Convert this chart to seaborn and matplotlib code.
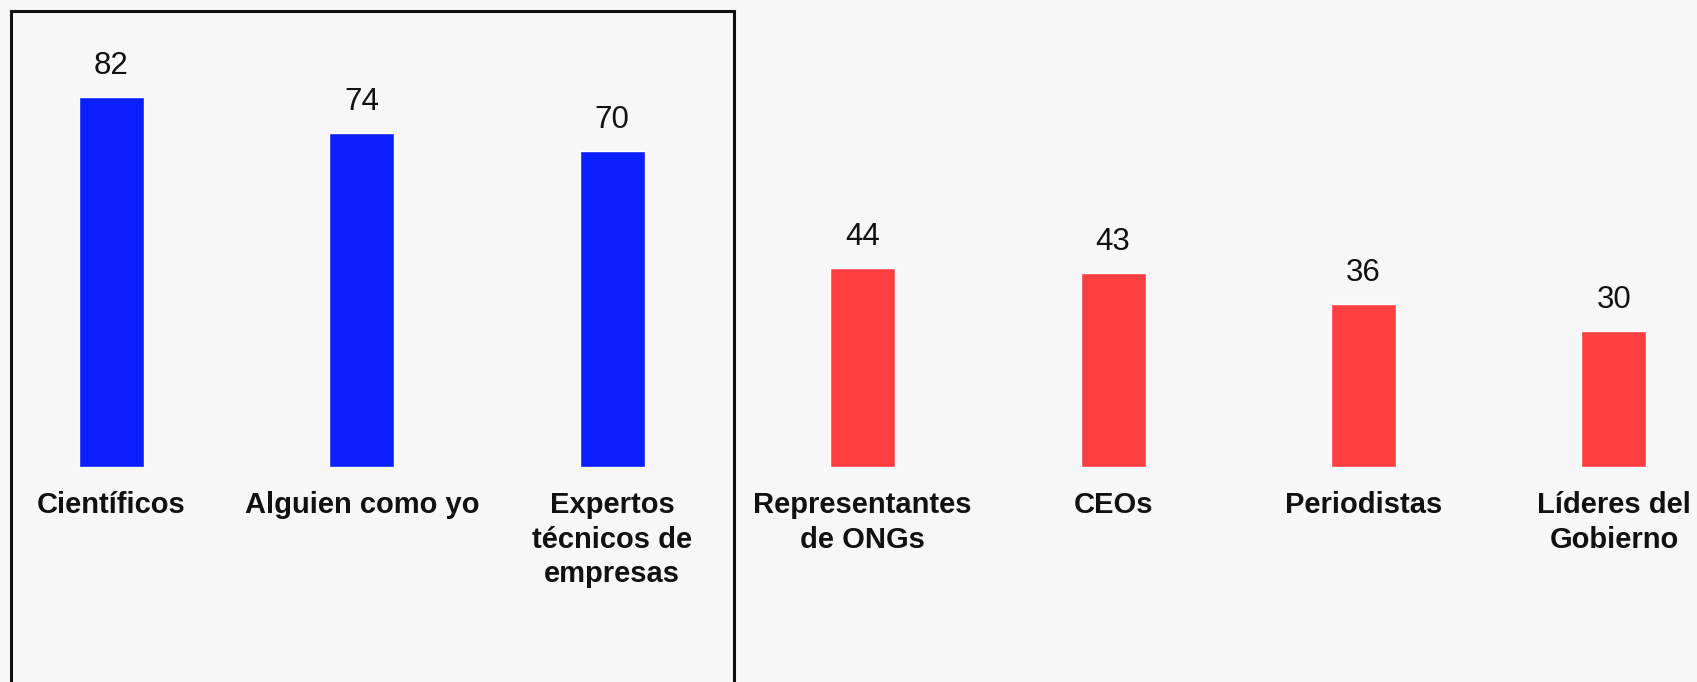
import matplotlib
matplotlib.use("Agg")
import matplotlib.pyplot as plt
import seaborn as sns
import pandas as pd
from matplotlib.patches import Rectangle

categories = [
    "Científicos",
    "Alguien como yo",
    "Expertos\ntécnicos de\nempresas",
    "Representantes\nde ONGs",
    "CEOs",
    "Periodistas",
    "Líderes del\nGobierno",
]
values = [82, 74, 70, 44, 43, 36, 30]
groups = ["alta", "alta", "alta", "baja", "baja", "baja", "baja"]

palette = {"alta": "#0a1fff", "baja": "#ff3e41"}
bg = "#f7f7f7"

sns.set_theme(style="white")
plt.rcParams["font.family"] = ["Liberation Sans", "DejaVu Sans"]

df = pd.DataFrame({"categoria": categories, "valor": values, "grupo": groups})

W, H, DPI = 1697, 682, 100
fig = plt.figure(figsize=(W / DPI, H / DPI), dpi=DPI, facecolor=bg)

zero_px = 466.7            # baseline, pixels from top
step_px = 250.4            # distance between bar centres
first_px = 111.5           # centre of first bar
unit_px = 4.51             # pixels per value unit

ax = fig.add_axes([0, (H - zero_px) / H, 1, zero_px / H])
ax.set_facecolor(bg)

sns.barplot(data=df, x="categoria", y="valor", hue="grupo", palette=palette,
            width=0.26, dodge=False, legend=False, ax=ax, saturation=1)

ax.set_xlim(-first_px / step_px, (W - first_px) / step_px)
ax.set_ylim(0, zero_px / unit_px)

for cont in ax.containers:
    ax.bar_label(cont, fmt="%d", padding=11.5, fontsize=22.5, color="#111111")

ax.set_xlabel("")
ax.set_ylabel("")
ax.set_yticks([])
ax.tick_params(axis="x", length=0, pad=17.8)
ax.set_xticks(range(len(categories)))
ax.set_xticklabels(categories, fontsize=21, fontweight="bold", color="#111111",
                   linespacing=1.29, va="top")
for s in ax.spines.values():
    s.set_visible(False)

# frame around the first group
fig.patches.append(Rectangle((10.7 / W, -0.1), (733.5 - 10.7) / W, 1.1 - 10.7 / H,
                             transform=fig.transFigure, fill=False,
                             edgecolor="#111111", linewidth=2.2, zorder=5))

fig.savefig("out.png", dpi=DPI, facecolor=bg)
